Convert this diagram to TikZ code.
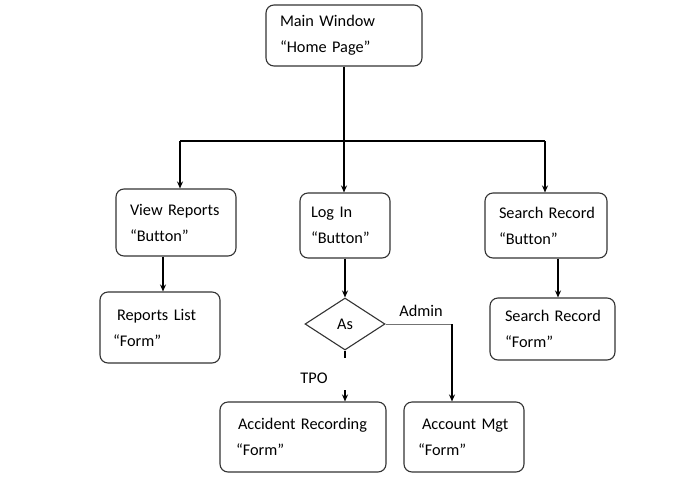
\documentclass[tikz,border=0pt]{standalone}
\usepackage{fontspec}
\setmainfont[Ligatures=NoCommon,WordSpace=0.75]{Carlito}
\usepackage{tikz}
\usetikzlibrary{shapes.geometric,arrows.meta}

\begin{document}
\begin{tikzpicture}[x=1pt,y=-1pt]
    \tikzstyle{box}=[draw=black!80, line width=1.1pt, rounded corners=8pt, align=left,
        font=\fontsize{16.3}{26}\selectfont, inner sep=0pt]
    \tikzstyle{arr}=[line width=1.1pt, -{Stealth[length=7pt,width=6pt]}]
    \tikzstyle{ln}=[line width=1.1pt]
    \tikzstyle{lbl}=[font=\fontsize{16.3}{18}\selectfont]
    \useasboundingbox (0,0) rectangle (680,488);
    \node [box, minimum width=156pt, minimum height=61pt, text width=128pt] (main) at (344,35.5) {Main~Window\\“Home~Page”};
    \node [box, minimum width=120pt, minimum height=67pt, text width=92pt] (view) at (176,222.5) {View~Reports\\“Button”};
    \node [box, minimum width=90pt, minimum height=65pt, text width=68pt] (login) at (345,225.5) {Log~In\\“Button”};
    \node [box, minimum width=122pt, minimum height=65pt, text width=94pt] (sbtn) at (546,225.5) {Search~Record\\“Button”};
    \node [box, minimum width=120pt, minimum height=71pt, text width=94pt] (replist) at (160,327.5) {\hspace*{4pt}Reports~List\\“Form”};
    \node [box, minimum width=125pt, minimum height=62pt, text width=95pt] (sform) at (552.5,329) {Search~Record\\“Form”};
    \node [box, minimum width=166pt, minimum height=70pt, text width=134pt] (acc) at (303,437) {\hspace*{2pt}Accident~Recording\\“Form”};
    \node [box, minimum width=120pt, minimum height=70pt, text width=92pt] (acct) at (464,437) {\hspace*{4pt}Account~Mgt\\“Form”};
    \node [draw=black!80, line width=1.1pt, diamond, aspect=1.54, inner sep=0pt,
        minimum width=80pt, minimum height=52pt, lbl] (as) at (345,324) {As};
    \node [lbl] (tpo) at (314,378) {TPO};
    \node [lbl] (admin) at (421,311) {Admin};
    % branches from the main window
    \coordinate (bl) at (180,141);
    \coordinate (br) at (545,141);
    \draw [arr] (main.south) -- (main.south |- login.north);
    \draw [ln] (bl) -- (br);
    \draw [arr] (bl) -- (bl |- view.north);
    \draw [arr] (br) -- (br |- sbtn.north);
    \draw [arr] ([xshift=-13pt]view.south) -- ([xshift=-13pt]view.south |- replist.north);
    \draw [arr] ([xshift=12pt]sbtn.south) -- ([xshift=12pt]sbtn.south |- sform.north);
    \draw [arr] (login.south) -- (as.north);
    % decision
    \coordinate (t1) at (345,358);
    \coordinate (t2) at (345,390);
    \coordinate (ad) at ([xshift=-12pt]acct.north |- as.east);
    \draw [ln] (as.south) -- (t1);
    \draw [arr] (t2) -- (t2 |- acc.north);
    \draw [line width=0.7pt, black!55] (as.east) -- (ad);
    \draw [arr] (ad) -- (ad |- acct.north);
\end{tikzpicture}
\end{document}
